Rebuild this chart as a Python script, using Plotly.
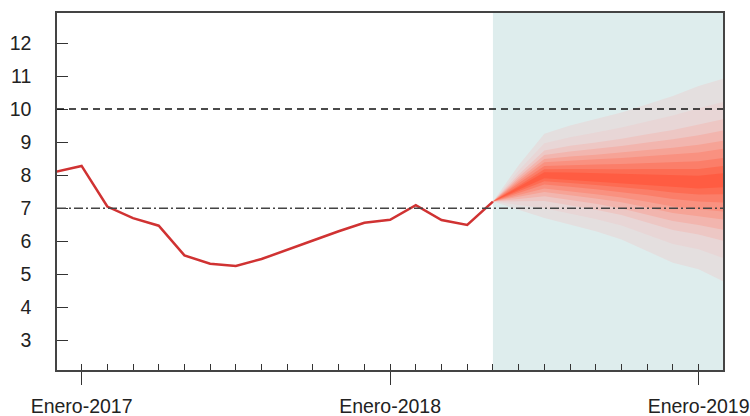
import plotly.graph_objects as go

# ---------------- data ----------------
hist_months = ["2016-12", "2017-01", "2017-02", "2017-03", "2017-04", "2017-05",
               "2017-06", "2017-07", "2017-08", "2017-09", "2017-10", "2017-11",
               "2017-12", "2018-01", "2018-02", "2018-03", "2018-04", "2018-05"]
hist_values = [8.10, 8.28, 7.05, 6.70, 6.47, 5.57, 5.32, 5.25, 5.46, 5.75,
               6.02, 6.30, 6.56, 6.65, 7.09, 6.64, 6.49, 7.20]

fc_months = ["2018-05", "2018-06", "2018-07", "2018-08", "2018-09",
             "2018-10", "2018-11", "2018-12", "2019-01", "2019-02"]
fc_median = [7.20, 7.60, 8.00, 7.97, 7.93, 7.90, 7.87, 7.82, 7.78, 7.85]
fc_upper95 = [7.20, 8.30, 9.25, 9.50, 9.70, 9.90, 10.15, 10.40, 10.70, 10.93]
fc_lower05 = [7.20, 6.95, 6.70, 6.50, 6.30, 6.05, 5.70, 5.35, 5.15, 4.77]

# relative position of each band edge between median and outer edge (read at right edge)
band_fractions = [1.00, 0.77, 0.60, 0.49, 0.39, 0.31, 0.22, 0.14, 0.07]
band_colors = ["#e4dfdf", "#e8d6d6", "#edc7c4", "#f2b5ae", "#f6a396",
               "#f99180", "#fb7e69", "#fd6c53", "#ff5c42"]

tick_months = ["2017-01", "2018-01", "2019-01"]
tick_labels = ["Enero-2017", "Enero-2018", "Enero-2019"]
minor_months = [f"{y}-{m:02d}" for y in (2017, 2018) for m in range(1, 13)] + ["2019-01"]
y_ticks = [3, 4, 5, 6, 7, 8, 9, 10, 11, 12]
ref_upper = 10
ref_target = 7


def pos(m):
    y, mo = m.split("-")
    return int(y) + (int(mo) - 1) / 12.0


x_range = [2016.9203, 2019.0791]
y_range = [2.1, 12.91]

fig = go.Figure()

# forecast shaded region
fig.add_shape(type="rect", xref="x", yref="paper",
              x0=pos(fc_months[0]), x1=x_range[1], y0=0, y1=1,
              fillcolor="#deeded", line=dict(width=0), layer="below")

# fan
fx = [pos(m) for m in fc_months]
for f, col in zip(band_fractions, band_colors):
    up = [md + f * (u - md) for md, u in zip(fc_median, fc_upper95)]
    lo = [md - f * (md - l) for md, l in zip(fc_median, fc_lower05)]
    fig.add_trace(go.Scatter(
        x=fx + fx[::-1], y=up + lo[::-1], fill="toself", fillcolor=col,
        mode="lines", line=dict(width=0, color=col), hoverinfo="skip",
        showlegend=False))

# historical line
fig.add_trace(go.Scatter(
    x=[pos(m) for m in hist_months], y=hist_values, mode="lines",
    line=dict(color="#d03232", width=2.5), showlegend=False))

# dummy trace on overlay axis for monthly inside ticks
fig.add_trace(go.Scatter(x=[pos(minor_months[0])], y=[None], xaxis="x2",
                         mode="lines", showlegend=False, hoverinfo="skip"))

# reference lines
fig.add_hline(y=ref_upper, line=dict(color="#111111", width=1.5, dash="7px,5px"))
fig.add_hline(y=ref_target, line=dict(color="#444444", width=1.5, dash="9px,3px,2px,3px"))

font = dict(family="Liberation Sans, Arial, sans-serif", size=19.5, color="#222222")

fig.update_layout(
    width=750, height=416,
    margin=dict(l=57, r=27, t=13, b=46, autoexpand=False),
    paper_bgcolor="white", plot_bgcolor="white",
    showlegend=False,
    font=font,
    xaxis=dict(
        range=x_range, showgrid=False, zeroline=False, automargin=False,
        tickvals=[pos(m) for m in tick_months], ticktext=tick_labels,
        ticks="outside", ticklen=13, tickwidth=1.3, tickcolor="#333333",
        showline=True, linecolor="#444444", linewidth=1.5, mirror=True,
        ticklabelstandoff=5, tickfont=font,
    ),
    xaxis2=dict(
        range=x_range, overlaying="x", anchor="y", side="bottom",
        showgrid=False, zeroline=False, showline=False, automargin=False,
        tickvals=[pos(m) for m in minor_months], showticklabels=False,
        ticks="inside", ticklen=6, tickwidth=1.3, tickcolor="#333333",
    ),
    yaxis=dict(
        range=y_range, showgrid=False, zeroline=False, automargin=False,
        tickvals=y_ticks, ticks="inside", ticklen=11, tickwidth=1.3,
        tickcolor="#333333",
        showline=True, linecolor="#444444", linewidth=1.5, mirror=True,
        ticklabelstandoff=20, tickfont=font,
    ),
)

fig.write_html("out.html", config={"displayModeBar": False},
               post_script="document.body.style.margin='0';document.body.style.padding='0';")
